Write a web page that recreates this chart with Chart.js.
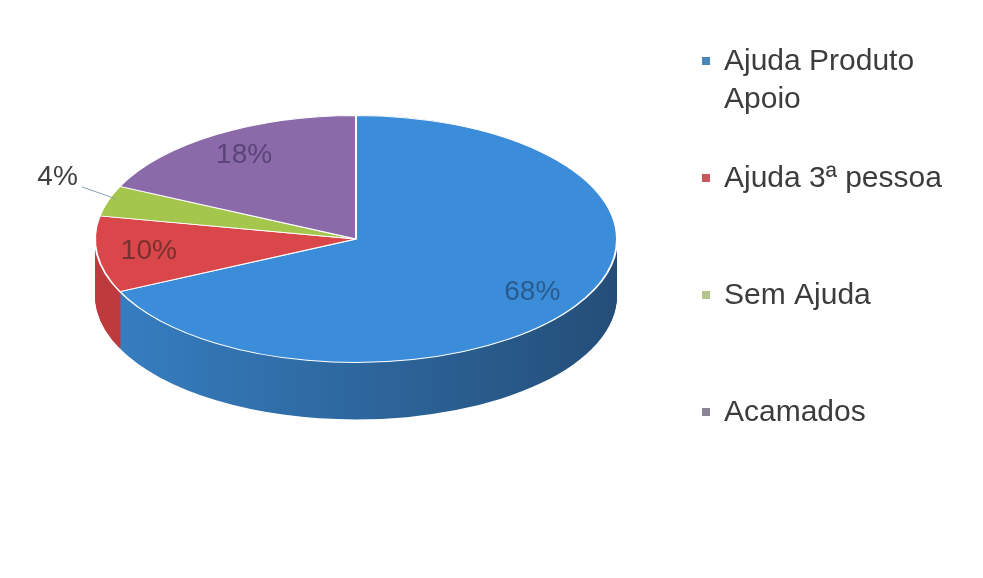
<!DOCTYPE html>
<html><head><meta charset="utf-8">
<script src="https://cdn.jsdelivr.net/npm/chart.js@4.4.1/dist/chart.umd.min.js"></script>
<style>html,body{margin:0;padding:0;background:#fff;overflow:hidden}#wrap{width:983px;height:578px;position:relative}</style>
</head><body><div id="wrap"><canvas id="c"></canvas></div>
<script>
// ---- data ----
const categories = ["Ajuda Produto Apoio", "Ajuda 3ª pessoa", "Sem Ajuda", "Acamados"];
const shares = [68, 10, 4, 18];

// ---- styles ----
const topColors = ["#3b8dd9", "#d9474a", "#a5c64c", "#8a6aa8"];
const sideLight = ["#3780c4", "#bf3a3d", "#8dab3c", "#73588f"];
const sideDark = ["#244e78", "#8f2a2c", "#6b832c", "#55406b"];
const labelColors = ["#2a5b8e", "#7a2f30", "#404040", "#5a4478"];
const legendColors = ["#4a86b8", "#c9585c", "#b5c48a", "#8a8494"];
const TEXT_FONT = 'Arial, "Liberation Sans", sans-serif';
const PIE_CY = 239, TILT = 124 / 262, DEPTH = 57, LABEL_F = 0.8;

const tilt3d = {
  id: 'tilt3d',
  beforeDatasetsDraw(chart) {
    const ctx = chart.ctx;
    const arcs = chart.getDatasetMeta(0).data;
    const a0 = arcs[0];
    ctx.save();
    ctx.translate(a0.x, PIE_CY);
    ctx.scale(1, TILT);
    ctx.translate(-a0.x, -a0.y);
    const grads = arcs.map((a, i) => {
      const g = ctx.createLinearGradient(a.x - a.outerRadius, 0, a.x + a.outerRadius, 0);
      g.addColorStop(0, sideLight[i]);
      g.addColorStop(1, sideDark[i]);
      return g;
    });
    const step = 1 / TILT;
    for (let d = DEPTH / TILT; d > 0; d -= step) {
      arcs.forEach((a, i) => {
        ctx.beginPath();
        ctx.moveTo(a.x, a.y + d);
        ctx.arc(a.x, a.y + d, a.outerRadius, a.startAngle, a.endAngle);
        ctx.closePath();
        ctx.fillStyle = grads[i];
        ctx.fill();
      });
    }
  },
  afterDatasetsDraw(chart) {
    chart.ctx.restore();
  },
  afterDraw(chart) {
    const ctx = chart.ctx;
    const arcs = chart.getDatasetMeta(0).data;
    const total = shares.reduce((s, v) => s + v, 0);
    ctx.save();
    ctx.font = '28px ' + TEXT_FONT;
    arcs.forEach((a, i) => {
      const pct = Math.round(shares[i] / total * 100) + '%';
      const mid = (a.startAngle + a.endAngle) / 2;
      const span = a.endAngle - a.startAngle;
      ctx.fillStyle = labelColors[i];
      if (span > 0.3) {
        const px = a.x + LABEL_F * a.outerRadius * Math.cos(mid);
        const py = PIE_CY + LABEL_F * a.outerRadius * TILT * Math.sin(mid);
        ctx.textAlign = 'center';
        ctx.textBaseline = 'middle';
        ctx.fillText(pct, px, py);
      } else {
        const rx = a.x + a.outerRadius * Math.cos(mid);
        const ry = PIE_CY + a.outerRadius * TILT * Math.sin(mid);
        const ex = rx - 26, ey = ry - 14;
        ctx.strokeStyle = '#8aa0a8';
        ctx.lineWidth = 1;
        ctx.beginPath();
        ctx.moveTo(rx + 8, ry - 2);
        ctx.lineTo(ex, ey);
        ctx.stroke();
        ctx.textAlign = 'right';
        ctx.textBaseline = 'middle';
        ctx.fillText(pct, ex - 4, ey - 10);
      }
    });
    // legend
    ctx.font = '30px ' + TEXT_FONT;
    ctx.textAlign = 'left';
    ctx.textBaseline = 'middle';
    const maxW = 240;
    categories.forEach((cat, i) => {
      const words = cat.split(' ');
      const lines = [];
      let cur = '';
      words.forEach(w => {
        const t = cur ? cur + ' ' + w : w;
        if (ctx.measureText(t).width > maxW && cur) { lines.push(cur); cur = w; } else cur = t;
      });
      lines.push(cur);
      const y0 = 62 + i * 117;
      ctx.fillStyle = legendColors[i];
      ctx.fillRect(702, y0 - 5, 8, 8);
      ctx.fillStyle = '#3c3c3c';
      lines.forEach((ln, k) => ctx.fillText(ln, 724, y0 + k * 38));
    });
    ctx.restore();
  }
};

new Chart(document.getElementById('c'), {
  type: 'pie',
  data: {
    labels: categories,
    datasets: [{
      data: shares,
      backgroundColor: topColors,
      borderColor: '#ffffff',
      borderWidth: 2
    }]
  },
  options: {
    responsive: true,
    maintainAspectRatio: false,
    animation: false,
    layout: { padding: { left: 94, right: 365, top: 0, bottom: 54 } },
    plugins: { legend: { display: false }, tooltip: { enabled: false } }
  },
  plugins: [tilt3d]
});
</script>
</body></html>
